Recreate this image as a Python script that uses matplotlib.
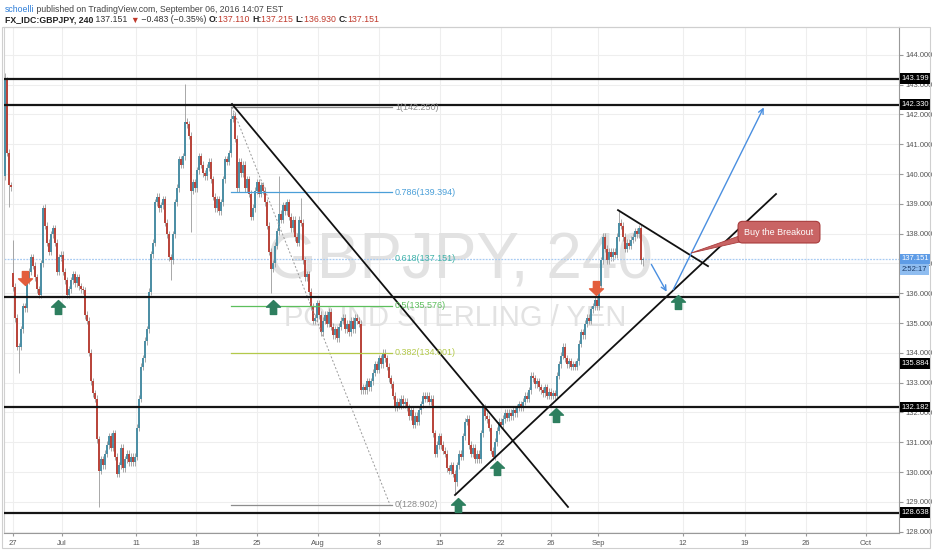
import numpy as np
import matplotlib
matplotlib.use('Agg')
import matplotlib.pyplot as plt
from matplotlib.path import Path
from matplotlib.patches import Polygon, Rectangle
import matplotlib.transforms as mtransforms

plt.rcParams['font.family'] = ['Liberation Sans', 'DejaVu Sans']

# GBPJPY 4h closes, one bar per 4 hours (24 Jun - 6 Sep 2016)
closes = [
    143.15, 140.71, 139.63, 139.55, 136.21, 135.17, 134.20, 134.20, 134.79, 135.56,
    135.50, 136.43, 136.72, 137.21, 136.92, 136.53, 136.14, 135.95, 137.01, 138.86,
    138.27, 137.69, 137.40, 137.98, 138.18, 137.69, 136.72, 137.21, 137.30, 136.72,
    136.43, 135.95, 136.14, 136.43, 136.63, 136.34, 136.53, 136.24, 136.14, 136.10,
    135.27, 135.08, 134.01, 133.04, 132.65, 132.46, 131.10, 130.04, 130.43, 130.23,
    130.62, 130.91, 131.20, 130.81, 131.30, 130.52, 129.94, 130.23, 130.81, 130.13,
    130.43, 130.62, 130.33, 130.52, 130.33, 130.52, 131.49, 132.46, 133.53, 133.82,
    134.40, 134.79, 136.05, 137.31, 137.69, 139.05, 139.24, 138.86, 138.95, 139.15,
    138.37, 137.98, 137.21, 137.11, 137.98, 139.05, 139.53, 140.50, 140.31, 140.60,
    141.76, 141.67, 141.28, 139.44, 139.73, 139.53, 140.12, 140.60, 140.31, 140.02,
    139.92, 140.21, 140.41, 139.82, 139.24, 138.86, 139.15, 138.76, 139.05, 139.82,
    140.50, 140.41, 140.70, 141.86, 141.96, 141.18, 139.53, 140.41, 140.02, 140.31,
    139.53, 139.82, 139.34, 138.57, 138.86, 139.44, 139.73, 139.34, 139.63, 139.44,
    139.05, 138.27, 137.40, 136.82, 137.01, 137.60, 138.08, 138.66, 138.47, 138.95,
    138.76, 139.05, 138.57, 138.18, 138.47, 137.89, 137.69, 138.47, 138.37, 137.11,
    136.53, 136.63, 136.05, 135.56, 135.08, 135.17, 135.66, 135.27, 134.69, 135.08,
    135.27, 134.98, 135.37, 134.88, 134.59, 134.79, 134.49, 134.88, 135.08, 135.17,
    134.79, 134.98, 134.69, 135.08, 134.79, 135.17, 135.08, 134.98, 132.75, 132.85,
    132.75, 133.04, 132.85, 133.04, 133.33, 133.62, 133.43, 133.82, 133.62, 134.01,
    133.82, 133.53, 133.14, 132.94, 132.56, 132.17, 132.36, 132.22, 132.46, 132.27,
    132.36, 132.17, 131.88, 132.07, 131.59, 131.88, 131.69, 132.07, 132.27, 132.56,
    132.46, 132.56, 132.36, 132.46, 131.30, 130.62, 130.91, 131.20, 130.91, 130.72,
    130.62, 130.13, 130.04, 130.23, 129.94, 129.65, 130.23, 130.62, 130.52, 131.20,
    131.69, 131.78, 130.91, 130.62, 130.81, 130.43, 130.62, 130.43, 131.30, 132.17,
    131.88, 131.78, 131.49, 130.72, 130.52, 131.01, 131.39, 131.69, 131.59, 131.78,
    131.98, 131.83, 131.98, 131.88, 132.07, 131.98, 132.17, 132.27, 132.17, 132.36,
    132.56, 132.46, 132.75, 133.24, 133.14, 132.94, 133.04, 132.85, 132.75, 132.65,
    132.85, 132.56, 132.70, 132.56, 132.65, 132.56, 133.24, 133.62, 133.91, 134.20,
    133.82, 133.62, 133.72, 133.53, 133.62, 133.53, 133.72, 134.30, 134.69, 134.59,
    134.98, 135.17, 135.08, 135.46, 135.56, 135.76, 135.56, 136.24, 137.11, 137.89,
    137.50, 137.11, 137.40, 137.21, 137.40, 137.30, 137.89, 138.37, 138.27, 137.89,
    137.50, 137.69, 137.60, 137.79, 137.89, 138.08, 137.98, 138.18, 137.11, 137.151,
]
first_open = 139.92
gap_opens = {4: 136.68}
high_marks = {0: 143.39, 4: 137.79, 19: 138.96, 90: 143.03, 113: 142.25, 137: 139.92,
              148: 139.20, 307: 138.80, 319: 137.215}
low_marks = {2: 138.90, 7: 133.33, 47: 128.83, 83: 136.43, 93: 138.05, 133: 136.01,
             225: 129.27, 319: 136.93}

# date axis (bar index positions)
date_ticks = [4, 28.5, 65.5, 95.5, 126, 156.5, 187, 217.5, 248, 273, 296.5, 339, 370, 400.5, 430.5]
date_labels = ['27', 'Jul', '11', '18', '25', 'Aug', '8', '15', '22', '26', 'Sep', '12', '19', '26', 'Oct']
price_ticks = list(range(128, 145))

# drawn levels
hlines = [143.199, 142.330, 135.884, 132.182, 128.638]
hline_labels = ['143.199', '142.330', '135.884', '132.182', '128.638']
hline_label_pos = [143.199, 142.330, 133.63, 132.182, 128.638]
last_price = 137.151

fib_levels = ['1', '0.786', '0.618', '0.5', '0.382', '0']
fib_values = [142.250, 139.394, 137.151, 135.576, 134.001, 128.902]
fib_colors = ['#8c8c8c', '#4a9fd8', '#3fb2a8', '#5cbf5c', '#b3c94a', '#8c8c8c']

trend_lines = [((113.5, 142.35), (281.5, 128.83)),
               ((225.0, 129.23), (385.5, 139.33)),
               ((306.5, 138.79), (351.5, 136.91))]
blue_arrows = [((322.5, 137.05), (331.5, 135.97)),
               ((333.5, 136.04), (380.0, 142.32))]
up_marks = [(26.5, 135.54), (134, 135.54), (226.5, 128.89), (246, 130.14), (275.5, 131.91), (336.5, 135.71)]
down_marks = [(10, 136.51), (295.5, 136.18)]

W, H = 932, 550
fig = plt.figure(figsize=(W / 100, H / 100), dpi=100)
fig.patch.set_facecolor('white')
ax = fig.add_axes([4 / W, (H - 533) / H, 895 / W, (533 - 27) / H])
ax.set_xlim(-0.5, 447)
ax.set_ylim(127.955, 144.935)

# grid
for t in date_ticks:
    ax.axvline(t, color='#eeeeee', lw=0.8, zorder=0)
for p in price_ticks:
    ax.axhline(p, color='#eeeeee', lw=0.8, zorder=0)

# watermark
ax.text(227.5, 137.05, 'GBPJPY, 240', fontsize=46, color='#e2e2e2', ha='center', va='center', zorder=1)
ax.text(225, 135.17, 'POUND STERLING / YEN', fontsize=21, color='#e2e2e2', ha='center', va='center', zorder=1)

# candles
closes = np.array(closes)
opens = np.concatenate([[first_open], closes[:-1]])
for k, v in gap_opens.items():
    opens[k] = v
idx = np.arange(len(closes))
highs = np.maximum(opens, closes) + 0.12
lows = np.minimum(opens, closes) - 0.12
for k, v in high_marks.items():
    highs[k] = v
for k, v in low_marks.items():
    lows[k] = v
up = closes >= opens
cols = np.where(up, '#4d8fa5', '#b9463c')
ax.vlines(idx, lows, highs, color='#9a9a9a', lw=0.6, zorder=2)
body = np.maximum(np.abs(closes - opens), 0.03)
ax.bar(idx, body, bottom=np.minimum(opens, closes), width=0.85, color=cols, linewidth=0, zorder=3)

# horizontal levels
for y in hlines:
    ax.axhline(y, color='#151515', lw=1.6, zorder=4)
ax.axhline(last_price, color='#a8cbf2', lw=0.9, ls=(0, (1.5, 1)), zorder=2)

# fibonacci retracement
ax.plot([113.5, 192.5], [fib_values[0], fib_values[-1]], color='#999999', lw=0.7, ls=(0, (2, 2)), zorder=3)
for lv, val, c in zip(fib_levels, fib_values, fib_colors):
    if lv != '0.618':
        ax.plot([113, 193.5], [val, val], color=c, lw=0.9, zorder=3)
    ax.text(195, val, f'{lv}({val:.3f})', color=c, fontsize=6.5, va='center', ha='left', zorder=5)

# trend lines
for (x0, y0), (x1, y1) in trend_lines:
    ax.plot([x0, x1], [y0, y1], color='#111111', lw=1.3, zorder=4)

for (x0, y0), (x1, y1) in blue_arrows:
    ax.annotate('', xy=(x1, y1), xytext=(x0, y0),
                arrowprops=dict(arrowstyle='->', color='#4a8fe0', lw=1.0, mutation_scale=9), zorder=5)

# arrow markers
arr = Path([(0, 1), (1, 0.05), (0.45, 0.05), (0.45, -1), (-0.45, -1), (-0.45, 0.05), (-1, 0.05), (0, 1)],
           [Path.MOVETO] + [Path.LINETO] * 6 + [Path.CLOSEPOLY])
arr_dn = Path(arr.vertices * np.array([1, -1]), arr.codes)
ax.plot([m[0] for m in up_marks], [m[1] for m in up_marks], ls='none', marker=arr, ms=10,
        color='#2e7f5f', zorder=6)
ax.plot([m[0] for m in down_marks], [m[1] for m in down_marks], ls='none', marker=arr_dn, ms=10,
        color='#e35d3c', zorder=6)

# callout
ax.add_patch(Polygon([(370, 137.99), (370, 137.76), (343, 137.35)], closed=True,
                     fc='#c96464', ec='#a83c3c', lw=0.6, zorder=6))
ax.text(387, 138.05, 'Buy the Breakout', fontsize=6.5, color='white', ha='center', va='center', zorder=7,
        bbox=dict(boxstyle='round,pad=0.7,rounding_size=0.5', fc='#c96464', ec='#a83c3c', lw=0.8))

# axes styling
ax.yaxis.tick_right()
ax.set_yticks(price_ticks)
ax.set_yticklabels([f'{p:.3f}' for p in price_ticks])
ax.set_xticks(date_ticks)
ax.set_xticklabels(date_labels)
ax.tick_params(axis='y', length=3, color='#999999', labelsize=5.5, labelcolor='#555555', pad=2)
ax.tick_params(axis='x', length=2, color='#999999', labelsize=5.5, labelcolor='#555555', pad=3)
for s in ['left', 'top']:
    ax.spines[s].set_color('#d0d0d0')
for s in ['right', 'bottom']:
    ax.spines[s].set_color('#999999')
for s in ax.spines.values():
    s.set_linewidth(0.8)

ytr = mtransforms.blended_transform_factory(ax.transAxes, ax.transData)
for y, lab in zip(hline_label_pos, hline_labels):
    ax.text(1.003, y, lab, transform=ytr, fontsize=5.5, color='white', ha='left', va='center', zorder=10,
            clip_on=False, bbox=dict(boxstyle='square,pad=0.25', fc='black', ec='none'))
ax.text(1.003, last_price, f'{last_price:.3f}', transform=ytr, fontsize=5.5, color='white', ha='left',
        va='center', clip_on=False, bbox=dict(boxstyle='square,pad=0.25', fc='#5e9ce6', ec='none'))
ax.text(1.003, 136.79, '2:52:17', transform=ytr, fontsize=5.5, color='#1d3d6b', ha='left',
        va='center', clip_on=False, bbox=dict(boxstyle='square,pad=0.25', fc='#8fbdf0', ec='none'))

# frame
fig.patches.append(Rectangle((2 / W, 2 / H), 928 / W, 521 / H, transform=fig.transFigure,
                             fill=False, ec='#cfcfcf', lw=0.8))

# header
renderer = fig.canvas.get_renderer()


def header_line(y, parts):
    x = 5 / W
    for txt, color, weight in parts:
        t = fig.text(x, y, txt, color=color, fontsize=6.3, fontweight=weight, va='center', ha='left')
        x = t.get_window_extent(renderer).x1 / W


header_line(1 - 9 / H, [('schoelli', '#2f7ed8', 'normal'),
                        (' published on TradingView.com, September 06, 2016 14:07 EST', '#444444', 'normal')])
header_line(1 - 20 / H, [('FX_IDC:GBPJPY, 240', '#222222', 'bold'), (' 137.151 ', '#333333', 'normal'),
                         ('▼', '#c0392b', 'normal'), (' \u22120.483 (\u22120.35%) ', '#333333', 'normal'),
                         ('O:', '#222222', 'bold'), ('137.110 ', '#c0392b', 'normal'),
                         ('H:', '#222222', 'bold'), ('137.215 ', '#c0392b', 'normal'),
                         ('L:', '#222222', 'bold'), ('136.930 ', '#c0392b', 'normal'),
                         ('C:', '#222222', 'bold'), ('137.151', '#c0392b', 'normal')])

fig.savefig('out.png', dpi=100)
